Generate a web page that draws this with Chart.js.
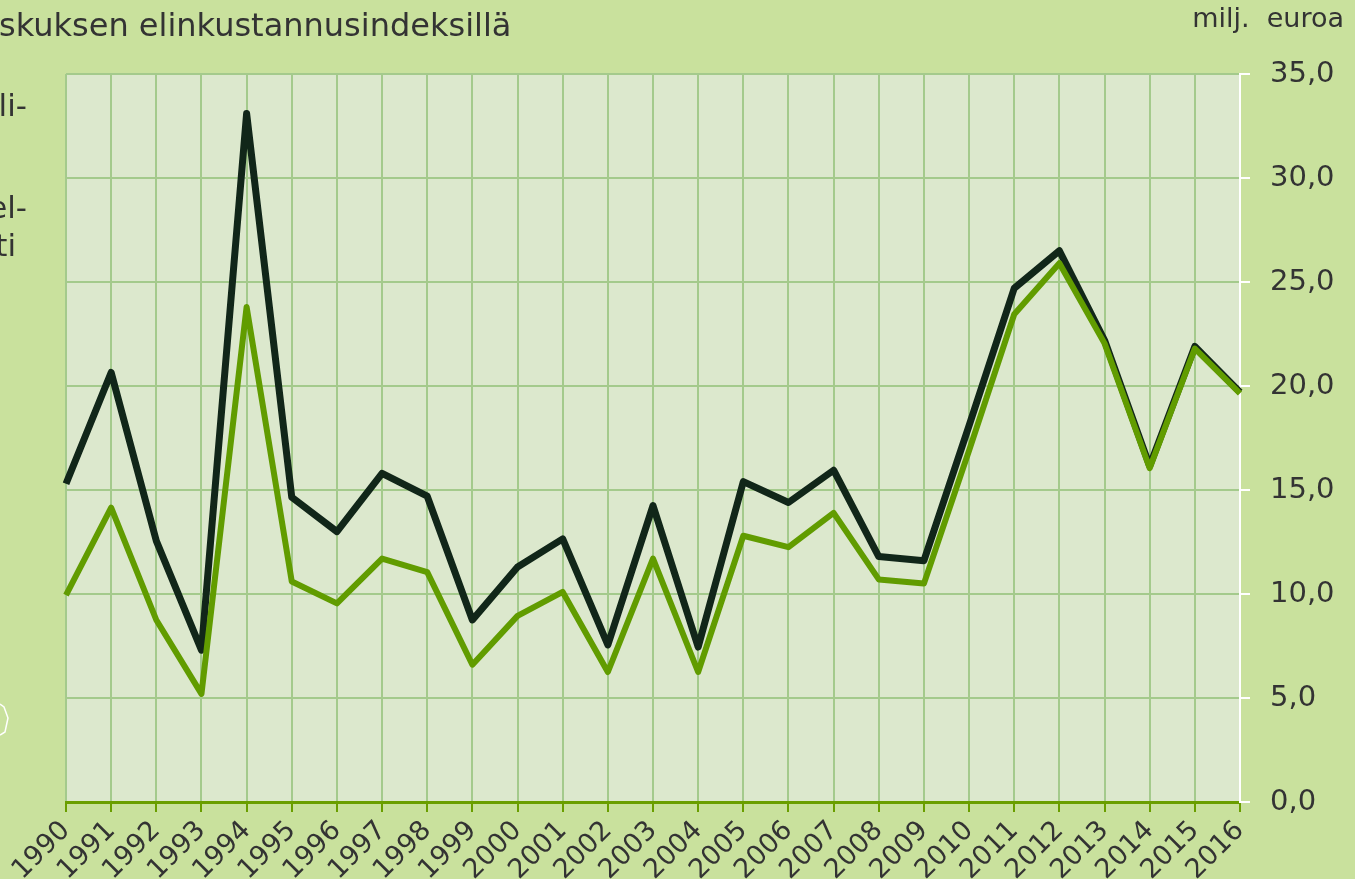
<!DOCTYPE html>
<html lang="fi">
<head>
<meta charset="UTF-8">
<title>milj. euroa</title>
<style>
  html, body { margin: 0; padding: 0; background: #c9e19d; overflow: hidden; }
  canvas { display: block; }
</style>
<script src="https://cdn.jsdelivr.net/npm/chart.js"></script>
</head>
<body>
<canvas id="chart" width="1355" height="879"></canvas>
<script>
// vuodet
const years = ['1990', '1991', '1992', '1993', '1994', '1995', '1996', '1997', '1998', '1999',
  '2000', '2001', '2002', '2003', '2004', '2005', '2006', '2007', '2008', '2009',
  '2010', '2011', '2012', '2013', '2014', '2015', '2016'];

// tumma sarja (korjattu elinkustannusindeksillä)
const darkValues = [15.3, 20.65, 12.55, 7.3, 33.1, 14.65, 13.0, 15.8, 14.7, 8.75,
  11.3, 12.65, 7.55, 14.25, 7.45, 15.4, 14.4, 15.95, 11.8, 11.6,
  18.1, 24.7, 26.5, 22.2, 16.15, 21.9, 19.7];

// vihreä sarja
const greenValues = [9.95, 14.15, 8.75, 5.2, 23.8, 10.6, 9.55, 11.7, 11.05, 6.6,
  8.95, 10.1, 6.25, 11.7, 6.25, 12.8, 12.25, 13.9, 10.7, 10.5,
  16.9, 23.45, 25.9, 22.05, 16.05, 21.8, 19.65];

const yMin = 0;
const yMax = 35;
const yStep = 5;

// tausta koko kuvalle ja piirtoalueelle
const backgroundPlugin = {
  id: 'background',
  beforeDraw(chart) {
    const { ctx, chartArea: a } = chart;
    ctx.save();
    ctx.fillStyle = '#c9e19d';
    ctx.fillRect(0, 0, chart.width, chart.height);
    ctx.fillStyle = '#dce8cd';
    ctx.fillRect(a.left, a.top, a.right - a.left, a.bottom - a.top);
    ctx.restore();
  }
};

// otsikko, yksikkö ja reunaan leikkautuneet tekstit
const textPlugin = {
  id: 'texts',
  afterDraw(chart) {
    const ctx = chart.ctx;
    ctx.save();
    ctx.fillStyle = '#333333';
    ctx.textBaseline = 'middle';
    ctx.font = '32px "DejaVu Sans"';
    ctx.textAlign = 'left';
    ctx.fillText('skuksen elinkustannusindeksillä', -1, 28);
    ctx.font = '31px "DejaVu Sans"';
    ctx.textAlign = 'right';
    ctx.fillText('li-', 27, 108);
    ctx.fillText('el-', 27, 210);
    ctx.fillText('ti', 16, 248);
    ctx.font = '27px "DejaVu Sans"';
    ctx.fillText('milj.  euroa', 1344, 20);

    // valkoinen reunus vasemmassa alakulmassa
    ctx.strokeStyle = '#ffffff';
    ctx.lineWidth = 1.5;
    ctx.beginPath();
    ctx.moveTo(0, 704);
    ctx.lineTo(4, 707);
    ctx.lineTo(8, 718);
    ctx.lineTo(5, 732);
    ctx.lineTo(0, 735);
    ctx.stroke();
    ctx.restore();
  }
};

const ctx = document.getElementById('chart').getContext('2d');
new Chart(ctx, {
  type: 'line',
  data: {
    labels: years,
    datasets: [
      {
        label: 'vihreä',
        data: greenValues,
        borderColor: '#619c00',
        borderWidth: 6,
        pointRadius: 0,
        tension: 0,
        borderJoinStyle: 'round',
        fill: false
      },
      {
        label: 'tumma',
        data: darkValues,
        borderColor: '#112619',
        borderWidth: 7,
        pointRadius: 0,
        tension: 0,
        borderJoinStyle: 'round',
        fill: false
      }
    ]
  },
  options: {
    responsive: false,
    animation: false,
    devicePixelRatio: 1,
    layout: { padding: { top: 74, left: 66, right: 0, bottom: 0 } },
    plugins: {
      legend: { display: false },
      tooltip: { enabled: false }
    },
    scales: {
      x: {
        offset: false,
        afterFit(scale) { scale.height = 77; },
        grid: {
          color: '#a4ca8c',
          lineWidth: 2,
          tickColor: '#6a9e00',
          tickLength: 10
        },
        border: { color: '#6a9e00', width: 3 },
        ticks: {
          autoSkip: false,
          maxRotation: 45,
          minRotation: 45,
          padding: 3,
          color: '#333333',
          font: { family: 'DejaVu Sans', size: 27 }
        }
      },
      y: {
        position: 'right',
        min: yMin,
        max: yMax,
        afterFit(scale) { scale.width = 115; },
        grid: {
          color: '#a4ca8c',
          lineWidth: 2,
          tickColor: '#ffffff',
          tickLength: 10
        },
        border: { color: '#ffffff', width: 2 },
        ticks: {
          stepSize: yStep,
          padding: 20,
          color: '#333333',
          font: { family: 'DejaVu Sans', size: 29 },
          callback: v => v.toFixed(1).replace('.', ',')
        }
      }
    }
  },
  plugins: [backgroundPlugin, textPlugin]
});
</script>
</body>
</html>
